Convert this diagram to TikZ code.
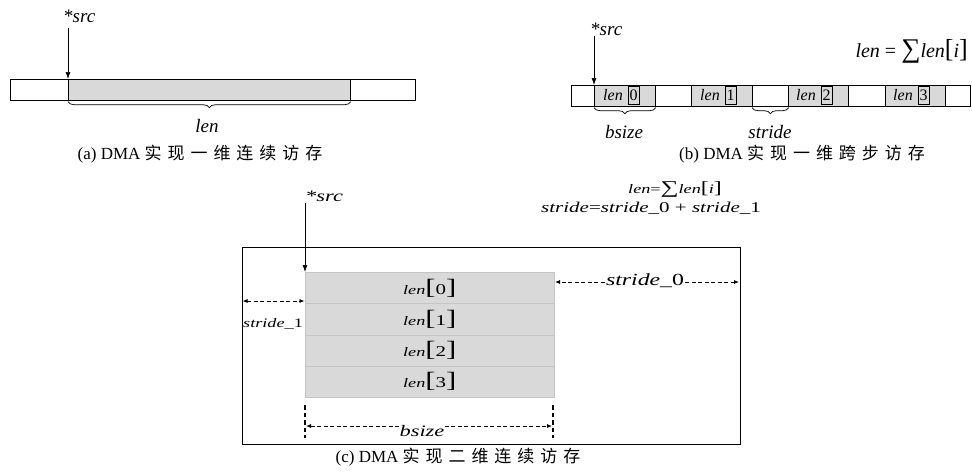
\documentclass[tikz,border=0pt]{standalone}
\usepackage{fontspec}
\setmainfont{Liberation Serif}
\newfontfamily\cjk{Noto Sans CJK SC}
\newfontfamily\cfont[FakeStretch=1.4]{Liberation Serif}
\usetikzlibrary{arrows.meta,decorations.pathreplacing}
\definecolor{cellgray}{HTML}{D9D9D9}
\definecolor{rowline}{HTML}{C4C4C4}
\newcommand{\fs}[1]{\fontsize{#1}{#1}\selectfont}
\newcommand{\zh}[2]{{\cjk\fs{17}\addfontfeature{LetterSpace=#1}#2}}
\begin{document}
\begin{tikzpicture}[x=1pt,y=-1pt,
  cell/.style={draw=black, line width=0.7pt, inner sep=0pt, anchor=north west, minimum height=21pt},
  gcell/.style={cell, fill=cellgray},
  digbox/.style={draw=black, line width=0.6pt, inner sep=0pt, minimum width=11pt, minimum height=18pt, font=\fs{16}},
  cellt/.style={inner sep=0pt, font=\fs{16}\itshape},
  arr/.style={line width=0.7pt, -{Latex[length=7pt,width=5pt]}},
  brace/.style={decorate, decoration={brace, amplitude=6pt, raise=1pt}, line width=0.7pt},
  lab/.style={inner sep=0pt, font=\fs{19}\itshape},
  captxt/.style={inner sep=0pt, font=\fs{17}},
  row/.style={draw=rowline, fill=cellgray, line width=0.6pt, inner sep=0pt, anchor=north west,
    minimum width=249pt, minimum height=31.25pt},
  clab/.style={inner sep=0pt, font=\cfont\itshape\fs{16}},
  darr/.style={line width=0.8pt, dash pattern=on 4pt off 2.5pt, -{Latex[length=5pt,width=4pt]}},
  vdash/.style={line width=1.2pt, dash pattern=on 4.5pt off 3pt}
]
\useasboundingbox (0,0) rectangle (972,475);

% ---------- (a)
\node[cell, minimum width=405pt] (abar) at (10,79) {};
\node[gcell, minimum width=282pt] (agray) at (68,79) {};
\node[lab, anchor=base west] (asrc) at (63,22) {*src};
\coordinate (aarrtop) at (68,28);
\draw[arr] (aarrtop) -- (agray.north west);
\draw[brace] (agray.south east) -- (agray.south west);
\node[lab] (alen) at (207,126) {len};
\node[captxt] (acap) at (200,154) {(a) DMA \zh{35}{实现一维连续访存}};

% ---------- (b)
\node[cell, minimum width=399pt] (bbar) at (571,85) {};
\node[cell, minimum width=23pt] (bw0) at (571,85) {};
\node[gcell, minimum width=61pt] (bg0) at (594,85) {};
\node[cell, minimum width=36pt] (bw1) at (655,85) {};
\node[gcell, minimum width=61pt] (bg1) at (691,85) {};
\node[cell, minimum width=36pt] (bw2) at (752,85) {};
\node[gcell, minimum width=60pt] (bg2) at (788,85) {};
\node[cell, minimum width=37pt] (bw3) at (848,85) {};
\node[gcell, minimum width=60pt] (bg3) at (885,85) {};
\node[cell, minimum width=25pt] (bw4) at (945,85) {};
\node[cellt] (bl0) at (613,95.5) {len};
\node[digbox] (bd0) at (633.5,95.5) {0};
\node[cellt] (bl1) at (710,95.5) {len};
\node[digbox] (bd1) at (730.5,95.5) {1};
\node[cellt] (bl2) at (806,95.5) {len};
\node[digbox] (bd2) at (826.5,95.5) {2};
\node[cellt] (bl3) at (903,95.5) {len};
\node[digbox] (bd3) at (923.5,95.5) {3};
\node[lab, anchor=base west] (bsrc) at (590,35) {*src};
\coordinate (barrtop) at (594,36);
\draw[arr] (barrtop) -- (bg0.north west);
\draw[brace] (bg0.south east) -- (bg0.south west);
\node[lab] (bbs) at (624,132) {bsize};
\draw[brace] (bw2.south east) -- (bw2.south west);
\node[lab] (bst) at (770,132) {stride};
\node[lab, font=\fs{20}\itshape, anchor=east] (bform) at (968,51) {len {\upshape=} {\upshape\fs{27}∑}len{\upshape\fs{26}[}i{\upshape\fs{26}]}};
\node[captxt] (bcap) at (802,154) {(b) DMA \zh{35}{实现一维跨步访存}};

% ---------- (c)
\node[draw=black, line width=0.7pt, inner sep=0pt, anchor=north west,
  minimum width=498pt, minimum height=197pt] (cbox) at (242,247) {};
\node[row] (r0) at (305,272) {\cfont\itshape\fs{13}len{\upshape\fs{22}[}{\upshape\fs{15}0}{\upshape\fs{22}]}};
\node[row] (r1) at (305,303.25) {\cfont\itshape\fs{13}len{\upshape\fs{22}[}{\upshape\fs{15}1}{\upshape\fs{22}]}};
\node[row] (r2) at (305,334.5) {\cfont\itshape\fs{13}len{\upshape\fs{22}[}{\upshape\fs{15}2}{\upshape\fs{22}]}};
\node[row] (r3) at (305,365.75) {\cfont\itshape\fs{13}len{\upshape\fs{22}[}{\upshape\fs{15}3}{\upshape\fs{22}]}};
\node[clab, anchor=base west] (csrc) at (305,201) {*src};
\coordinate (carrtop) at (305,203);
\draw[arr] (carrtop) -- (r0.north west);
% stride_1
\coordinate (cs1l) at (242.5,301);
\coordinate (cs1r) at (304.5,301);
\draw[darr, {Latex[length=5pt,width=4pt]}-{Latex[length=5pt,width=4pt]}] (cs1l) -- (cs1r);
\node[clab, font=\cfont\itshape\fs{13}, anchor=west] (cs1lab) at (243,324) {stride\_{\upshape 1}};
% stride_0
\node[clab, font=\cfont\itshape\fs{17}, inner sep=1pt] (cs0lab) at (645,281) {stride\_{\upshape 0}};
\coordinate (cs0a) at (555,282);
\coordinate (cs0b) at (739,282);
\draw[darr] (cs0lab.west |- cs0a) -- (cs0a);
\draw[darr] (cs0lab.east |- cs0b) -- (cs0b);
% bsize
\coordinate (cv1t) at (305,405);
\coordinate (cv1b) at (305,438);
\coordinate (cv2t) at (553,405);
\coordinate (cv2b) at (553,438);
\draw[vdash] (cv1t) -- (cv1b);
\draw[vdash] (cv2t) -- (cv2b);
\node[clab] (cbs) at (422,431) {bsize};
\coordinate (cbl) at (306,426);
\coordinate (cbr) at (552,426);
\draw[darr] (cbs.west |- cbl) -- (cbl);
\draw[darr] (cbs.east |- cbr) -- (cbr);
% formulas
\node[clab, font=\cfont\itshape\fs{13}, anchor=west] (cf1) at (628,190) {len{\upshape=\fs{18}∑}len{\upshape\fs{17}[}i{\upshape\fs{17}]}};
\node[clab, font=\cfont\itshape\fs{15}, anchor=west] (cf2) at (541,208) {stride{\upshape=}stride\_{\upshape 0} {\upshape+} stride\_{\upshape 1}};
\node[captxt] (ccap) at (458,457) {(c) DMA \zh{35}{实现二维连续访存}};
\end{tikzpicture}
\end{document}
